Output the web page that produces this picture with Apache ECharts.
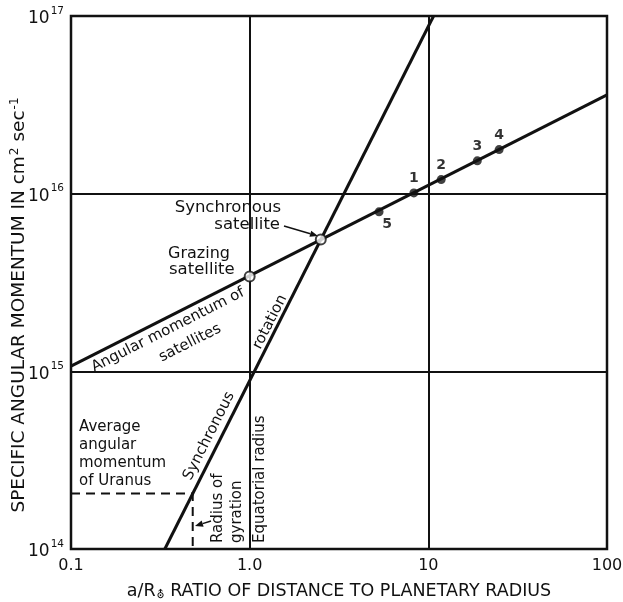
<!DOCTYPE html>
<html><head><meta charset="utf-8">
<script src="https://cdn.jsdelivr.net/npm/echarts@6/dist/echarts.min.js"></script>
<style>html,body{margin:0;padding:0;background:#fff}#c{width:623px;height:602px}</style>
</head><body><div id="c"></div>
<script>
// ---- data ----
const xTickLabels = ['0.1', '1.0', '10', '100'];
const yTickExponents = ['14', '15', '16', '17'];
const satelliteLine = [[0.1, 1.07e15], [100, 3.6e16]];
const synchronousRotationLine = [[0.335, 1e14], [10.7, 1e17]];
const uranusAverage = [[0.1, 2.05e14], [0.48, 2.05e14], [0.48, 1e14]];
const moonNames = ['5', '1', '2', '3', '4'];
const moonDistance = [5.3, 8.3, 11.8, 18.8, 24.9];
const moonMomentum = [7.9e15, 1.01e16, 1.2e16, 1.53e16, 1.77e16];
const specialPoints = [[1, 3.42e15], [2.5, 5.52e15]];

const FF = "'DejaVu Sans', sans-serif";
const INK = '#111';

const moonData = moonDistance.map((d, i) => {
  const item = { value: [d, moonMomentum[i]], name: moonNames[i] };
  if (moonNames[i] === '5') item.label = { position: 'bottom', offset: [8, -2] };
  return item;
});

function txt(text, x, y, opts) {
  opts = opts || {};
  const deg = opts.rot || 0;
  return {
    type: 'text', x: x, y: y, rotation: deg * Math.PI / 180, z: 10,
    style: {
      text: text, fill: INK, fontFamily: FF, fontSize: opts.size || 15,
      align: opts.align || 'center', textAlign: opts.align || 'center',
      verticalAlign: opts.va || 'middle', textVerticalAlign: opts.va || 'middle',
      lineHeight: opts.lh || 18, rich: opts.rich
    }
  };
}
function arrow(x1, y1, x2, y2) {
  const a = Math.atan2(y2 - y1, x2 - x1), L = 8, W = 3.2;
  const bx = x2 - L * Math.cos(a), by = y2 - L * Math.sin(a);
  return [
    { type: 'line', z: 10, shape: { x1: x1, y1: y1, x2: bx, y2: by }, style: { stroke: INK, lineWidth: 1.5 } },
    { type: 'polygon', z: 10, shape: { points: [[x2, y2], [bx - W * Math.sin(a), by + W * Math.cos(a)], [bx + W * Math.sin(a), by - W * Math.cos(a)]] }, style: { fill: INK } }
  ];
}

const chart = echarts.init(document.getElementById('c'), null, { renderer: 'canvas' });
chart.setOption({
  backgroundColor: '#fff',
  animation: false,
  grid: { left: 71, right: 16, top: 16, bottom: 53, containLabel: false, outerBoundsMode: 'none',
    show: true, borderColor: INK, borderWidth: 2.5, backgroundColor: 'transparent' },
  xAxis: {
    type: 'log', logBase: 10, min: 0.1, max: 100,
    axisLine: { show: false }, axisTick: { show: false }, minorTick: { show: false },
    splitLine: { show: true, lineStyle: { color: INK, width: 2 } },
    axisLabel: { color: INK, fontFamily: FF, fontSize: 16, margin: 9, formatter: (v, i) => xTickLabels[i] },
    name: '{n|a/R}{sub|⛢}{n| RATIO OF DISTANCE TO PLANETARY RADIUS}',
    nameLocation: 'middle', nameGap: 33,
    nameTextStyle: { color: INK, fontFamily: FF, fontSize: 17.5,
      rich: { n: { fontFamily: FF, fontSize: 17.5, color: INK }, sub: { fontFamily: FF, fontSize: 11, color: INK, padding: [8, 0, 0, 1] } } }
  },
  yAxis: {
    type: 'log', logBase: 10, min: 1e14, max: 1e17,
    axisLine: { show: false }, axisTick: { show: false }, minorTick: { show: false },
    splitLine: { show: true, lineStyle: { color: INK, width: 2 } },
    axisLabel: {
      margin: 7, formatter: (v, i) => '{b|10}{s|' + yTickExponents[i] + '}',
      rich: { b: { fontFamily: FF, fontSize: 17, color: INK, padding: [6, 0, 0, 0] }, s: { fontFamily: FF, fontSize: 10.5, color: INK, padding: [0, 0, 10, 1] } }
    }
  },
  series: [
    { type: 'line', data: satelliteLine, symbol: 'none', lineStyle: { color: INK, width: 3 }, z: 3 },
    { type: 'line', data: synchronousRotationLine, symbol: 'none', lineStyle: { color: INK, width: 3 }, z: 3 },
    { type: 'line', data: uranusAverage, symbol: 'none', lineStyle: { color: INK, width: 2, type: [9, 6] }, z: 3 },
    { type: 'scatter', data: moonData, symbol: 'circle', symbolSize: 9, itemStyle: { color: INK }, z: 5,
      label: { show: true, position: 'top', distance: 3, formatter: p => p.name, color: '#000', textBorderWidth: 0,
        fontFamily: FF, fontSize: 14, fontWeight: 'bold' } },
    { type: 'scatter', data: specialPoints, symbol: 'circle', symbolSize: 10, itemStyle: { color: '#fff', borderColor: INK, borderWidth: 2 }, z: 6 }
  ],
  graphic: [
    txt('SPECIFIC ANGULAR MOMENTUM IN {n|cm}{s|2}{n| sec}{s|-1}', 19, 305, { rot: 90, size: 18.5,
      rich: { n: { fontFamily: FF, fontSize: 18.5, fill: INK, color: INK }, s: { fontFamily: FF, fontSize: 12, fill: INK, color: INK, padding: [0, 0, 9, 1] } } }),
    txt('Synchronous', 281, 208, { align: 'right', size: 16.5 }),
    txt('satellite', 280, 225, { align: 'right', size: 16.5 }),
    txt('Grazing', 168, 254, { align: 'left', size: 16 }),
    txt('satellite', 169, 270, { align: 'left', size: 16.5 }),
    txt('Angular momentum of', 168, 330, { rot: 26.9 }),
    txt('satellites', 190, 343, { rot: 26.9 }),
    txt('rotation', 270, 322, { rot: 63.2 }),
    txt('Synchronous', 209, 436, { rot: 63.2 }),
    txt('Equatorial radius', 260, 543, { rot: 90, align: 'left' }),
    txt('Radius of', 218, 543, { rot: 90, align: 'left' }),
    txt('gyration', 237, 543, { rot: 90, align: 'left' }),
    txt('Average\nangular\nmomentum\nof Uranus', 79, 418, { align: 'left', va: 'top', lh: 18 })
  ].concat(arrow(284, 226, 318, 236)).concat(arrow(211, 521, 195, 526))
});
</script>
</body></html>
